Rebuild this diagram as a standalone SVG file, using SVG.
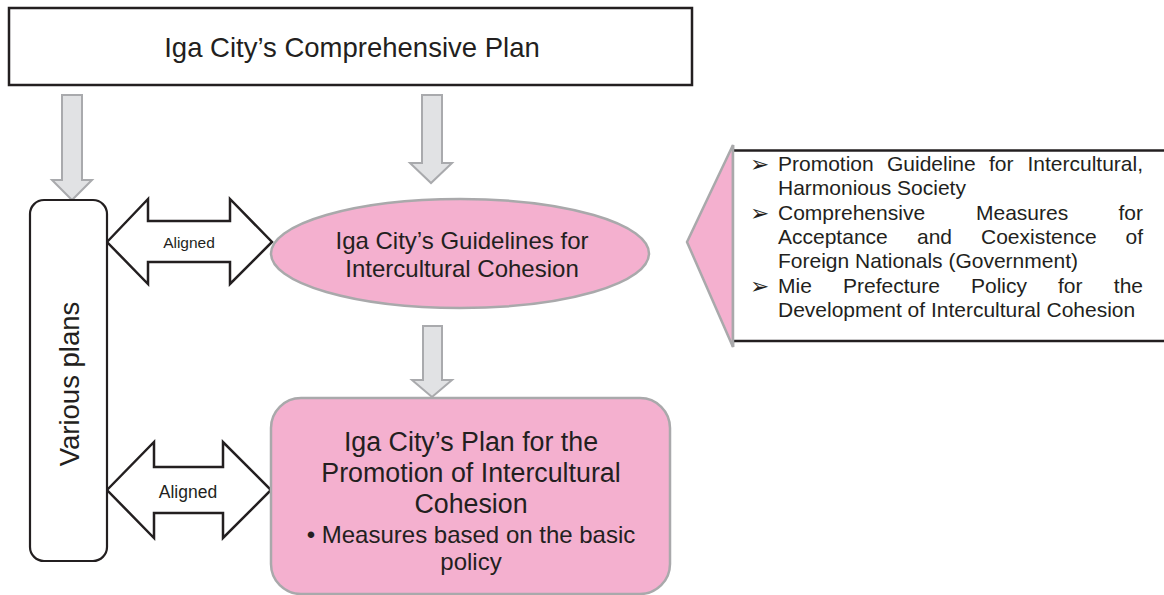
<svg xmlns="http://www.w3.org/2000/svg" width="1164" height="595" viewBox="0 0 1164 595">
<defs>
<style>
text{font-family:"Liberation Sans",Arial,sans-serif;fill:#231f20}
.box{fill:#ffffff;stroke:#231f20;stroke-width:2.5}
.pink{fill:#f4b0cf;stroke:#a9a9ab;stroke-width:2.5}
.garrow{fill:#e1e2e4;stroke:#a9aaad;stroke-width:2}
.darrow{fill:#ffffff;stroke:#231f20;stroke-width:2.5;stroke-linejoin:miter}
.bul{font-family:"DejaVu Sans",sans-serif;font-size:23px}
.rt{font-size:21px}
</style>
</defs>
<rect width="1164" height="595" fill="#ffffff"/>
<g id="connectors">
<polygon class="garrow" points="62,95 82,95 82,180 92,180 72,200 52,180 62,180"/>
<polygon class="garrow" points="422,95 442,95 442,163 452,163 431,183 410,163 422,163"/>
<polygon class="garrow" points="423,326 442,326 442,380 452,380 432,397 412,380 423,380"/>
<g id="aligned-top">
<polygon class="darrow" points="107,242 148,199 148,221 230,221 230,199 272,242 230,284 230,262 148,262 148,284"/>
<text x="189" y="248" font-size="15.5" text-anchor="middle">Aligned</text>
</g>
<g id="aligned-bottom">
<polygon class="darrow" points="107,490 154,442 154,467 223,467 223,442 271,490 223,538 223,513 154,513 154,538"/>
<text x="188" y="498" font-size="17.5" text-anchor="middle">Aligned</text>
</g>
</g>
<g id="comprehensive-plan">
<rect class="box" x="9" y="8" width="683" height="77"/>
<text x="352" y="57" font-size="27.5" text-anchor="middle">Iga City’s Comprehensive Plan</text>
</g>
<g id="various-plans">
<rect x="30" y="200" width="77" height="361" rx="14" fill="#ffffff" stroke="#231f20" stroke-width="2.2"/>
<text transform="translate(79,384) rotate(-90)" font-size="27.5" text-anchor="middle">Various plans</text>
</g>
<g id="guidelines">
<ellipse class="pink" cx="460" cy="253.5" rx="189" ry="54.5"/>
<text x="462" y="249" font-size="24" text-anchor="middle">Iga City’s Guidelines for</text>
<text x="462" y="277" font-size="24" text-anchor="middle">Intercultural Cohesion</text>
</g>
<g id="promotion-plan">
<rect class="pink" x="271" y="398" width="399" height="196" rx="30"/>
<text x="471" y="451" font-size="26.8" text-anchor="middle">Iga City’s Plan for the</text>
<text x="471" y="482" font-size="26.8" text-anchor="middle">Promotion of Intercultural</text>
<text x="471" y="513" font-size="26.8" text-anchor="middle">Cohesion</text>
<text x="471" y="543" font-size="24" text-anchor="middle">• Measures based on the basic</text>
<text x="471" y="570" font-size="24" text-anchor="middle">policy</text>
</g>
<g id="external-policies">
<polygon class="pink" points="733,145 687,242 733,347"/>
<rect x="733" y="150" width="440" height="191" fill="#ffffff"/>
<line x1="733" y1="150.5" x2="1164" y2="150.5" stroke="#231f20" stroke-width="2.5"/>
<line x1="733" y1="341" x2="1164" y2="341" stroke="#231f20" stroke-width="2.5"/>
<line x1="733" y1="145" x2="733" y2="347" stroke="#a9a9ab" stroke-width="2.5"/>
<text class="bul" x="750" y="172">➢</text>
<text class="rt" y="171"><tspan x="778">Promotion</tspan><tspan x="887">Guideline</tspan><tspan x="989">for</tspan></text>
<text class="rt" x="1143" y="171" text-anchor="end">Intercultural,</text>
<text class="rt" x="778" y="195.3">Harmonious Society</text>
<text class="bul" x="750" y="220.6">➢</text>
<text class="rt" y="219.6"><tspan x="778">Comprehensive</tspan><tspan x="976">Measures</tspan></text>
<text class="rt" x="1143" y="219.6" text-anchor="end">for</text>
<text class="rt" y="243.9"><tspan x="778">Acceptance</tspan><tspan x="917">and</tspan><tspan x="981">Coexistence</tspan></text>
<text class="rt" x="1143" y="243.9" text-anchor="end">of</text>
<text class="rt" x="778" y="268.2">Foreign Nationals (Government)</text>
<text class="bul" x="750" y="293.5">➢</text>
<text class="rt" y="292.5"><tspan x="778">Mie</tspan><tspan x="843">Prefecture</tspan><tspan x="971">Policy</tspan><tspan x="1058">for</tspan></text>
<text class="rt" x="1143" y="292.5" text-anchor="end">the</text>
<text class="rt" x="778" y="316.8">Development of Intercultural Cohesion</text>
</g>
</svg>
